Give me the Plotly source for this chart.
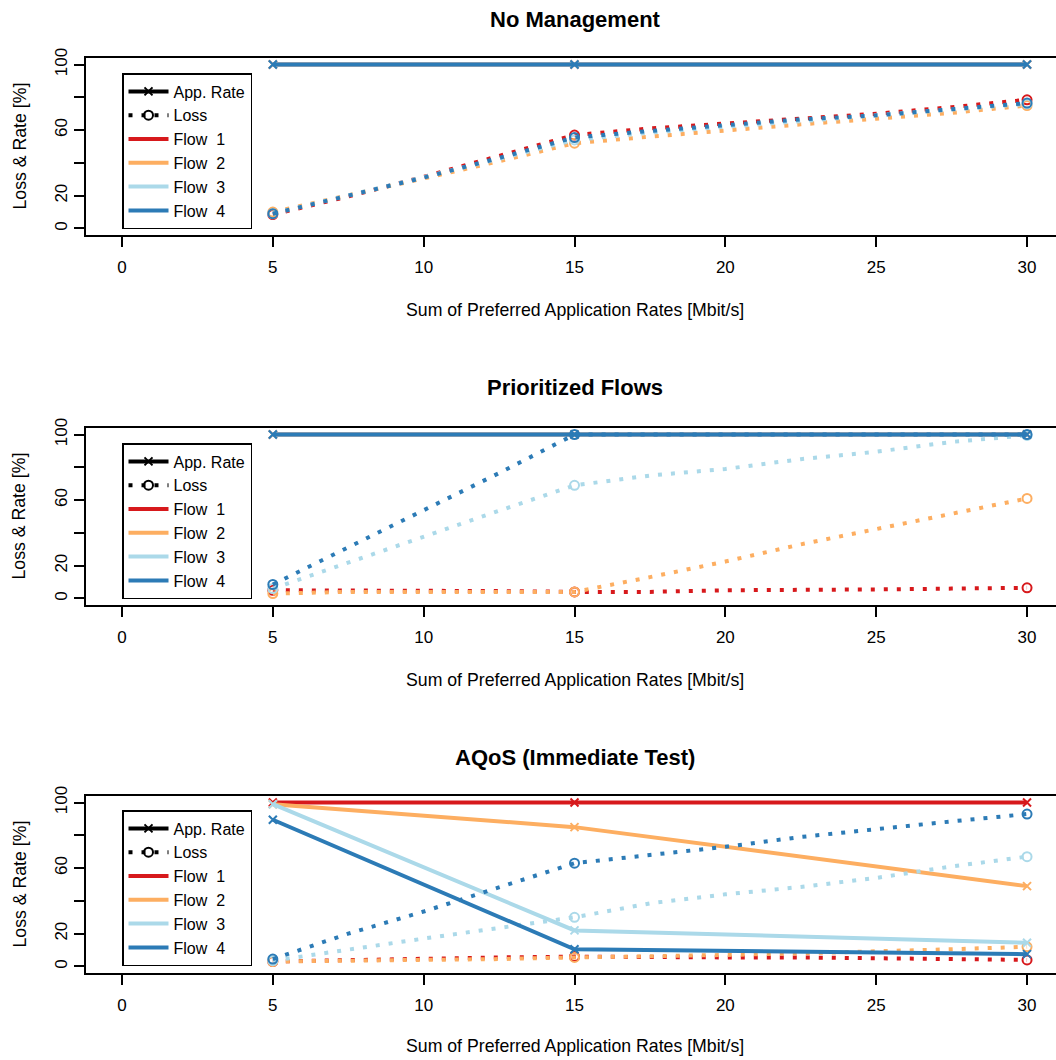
import plotly.graph_objects as go

# ---------------- data ----------------
RATE_X = [5, 15, 30]
LOSS_X = [5, 7.5, 10, 12.5, 15, 17.5, 20, 22.5, 25, 27.5, 30]
X_TICKS = [0, 5, 10, 15, 20, 25, 30]
Y_TICKS = [0, 20, 40, 60, 80, 100]
Y_TICK_TEXT = ["0", "20", "", "60", "", "100"]

FLOW_NAMES = ["Flow \u00a01", "Flow \u00a02", "Flow \u00a03", "Flow \u00a04"]
FLOW_COLORS = ["#D7191C", "#FDAE61", "#ABD9E9", "#2C7BB6"]
PANEL_TITLES = ["No Management", "Prioritized Flows", "AQoS (Immediate Test)"]
X_TITLE = "Sum of Preferred Application Rates [Mbit/s]"
Y_TITLE = "Loss &amp; Rate [%]"

# No Management
NM_RATE = [[100, 100, 100], [100, 100, 100], [100, 100, 100], [100, 100, 100]]
NM_LOSS = [
    [8.5, 19.5, 31.5, 44, 57, 61, 64, 67.5, 70, 74, 78.5],
    [10, 20, 30.5, 41, 52, 56, 60, 63.5, 67, 70.5, 75],
    [9, 20, 31, 42.5, 54, 58.5, 62, 65.5, 68.5, 72, 76],
    [9, 20, 31, 43, 55.5, 59.5, 63, 66.5, 69, 73, 76.5],
]

# Prioritized Flows
PF_RATE = [[100, 100, 100], [100, 100, 100], [100, 100, 100], [100, 100, 100]]
PF_LOSS = [
    [5, 5, 4.5, 4.5, 4, 4, 5, 5, 5.5, 6, 6.5],
    [3, 4, 4, 4, 4, 13, 22.5, 33, 42.5, 51.5, 61],
    [6, 22, 37.5, 53.5, 69, 75, 79, 85, 89.5, 95.5, 99.5],
    [8.5, 31, 54, 76.5, 100, 100, 100, 100, 100, 100, 100],
]

# AQoS (Immediate Test)
AQ_RATE = [[100, 100, 100], [99, 85, 49], [99, 22, 14.5], [89.5, 10.5, 7.5]]
AQ_LOSS = [
    [3, 4, 5, 5.5, 6, 5.5, 5.5, 5.5, 5, 4.5, 4],
    [3, 3.5, 3.5, 4.5, 5.5, 6, 7, 8, 9, 10.5, 12],
    [3.5, 10.5, 17, 23.5, 30, 38.5, 44, 48.5, 54, 61, 67],
    [4.5, 20, 33.5, 48, 63, 68, 73, 79, 84, 88.5, 93],
]

# ---------------- layout constants (pixels) ----------------
W, H = 1056, 1060
ML = 86
X_RANGE = [-1.193, 30.96]
Y_RANGE = [-4, 104]
BOX_TOP = [58, 428, 796]
BOX_BOT = [235, 605, 973]
TITLE_Y = [20, 388, 757]
XTITLE_Y = [310, 680, 1046]
LEG_TOP = [73, 443, 810]
FONT = "Liberation Sans, Arial, Helvetica, sans-serif"
DOT = "4px,9px"


def px_x(p):
    return (p - ML) / (W - ML)


def px_y(p):
    return 1 - p / H


fig = go.Figure()
panels = [(NM_RATE, NM_LOSS), (PF_RATE, PF_LOSS), (AQ_RATE, AQ_LOSS)]
for p, (rate, loss) in enumerate(panels):
    sfx = "" if p == 0 else str(p + 1)
    xa, ya = "x" + sfx, "y" + sfx
    leg = "legend" + sfx
    for f in range(4):
        c = FLOW_COLORS[f]
        fig.add_trace(go.Scatter(
            x=RATE_X, y=rate[f], mode="lines+markers",
            line=dict(color=c, width=4),
            marker=dict(symbol="x-thin", size=8, color=c, line=dict(color=c, width=2)),
            xaxis=xa, yaxis=ya, showlegend=False, hoverinfo="skip"))
        fig.add_trace(go.Scatter(
            x=LOSS_X, y=loss[f], mode="lines",
            line=dict(color=c, width=4, dash=DOT),
            xaxis=xa, yaxis=ya, showlegend=False, hoverinfo="skip"))
        fig.add_trace(go.Scatter(
            x=RATE_X, y=[loss[f][LOSS_X.index(v)] for v in RATE_X], mode="markers",
            marker=dict(symbol="circle-open", size=9, color=c, line=dict(color=c, width=2)),
            xaxis=xa, yaxis=ya, showlegend=False, hoverinfo="skip"))
    # legend entries
    fig.add_trace(go.Scatter(
        x=[None], y=[None], mode="lines+markers", name="App. Rate",
        line=dict(color="black", width=4),
        marker=dict(symbol="x-thin", size=8, color="black", line=dict(color="black", width=2)),
        xaxis=xa, yaxis=ya, legend=leg))
    fig.add_trace(go.Scatter(
        x=[None], y=[None], mode="lines+markers", name="Loss",
        line=dict(color="black", width=4, dash=DOT),
        marker=dict(symbol="circle-open", size=9, color="black", line=dict(color="black", width=2)),
        xaxis=xa, yaxis=ya, legend=leg))
    for f in range(4):
        fig.add_trace(go.Scatter(
            x=[None], y=[None], mode="lines", name=FLOW_NAMES[f],
            line=dict(color=FLOW_COLORS[f], width=4),
            xaxis=xa, yaxis=ya, legend=leg))

layout = dict(
    width=W, height=H,
    margin=dict(l=ML, r=0, t=0, b=0, pad=0, autoexpand=False),
    paper_bgcolor="white", plot_bgcolor="white",
    font=dict(family=FONT, size=17, color="black"),
    showlegend=True,
)
annotations = []
for p in range(3):
    sfx = "" if p == 0 else str(p + 1)
    layout["xaxis" + sfx] = dict(
        domain=[0, 1], range=X_RANGE, anchor="y" + sfx,
        tickmode="array", tickvals=X_TICKS, ticktext=[str(v) for v in X_TICKS],
        ticks="outside", ticklen=10, tickwidth=1.5, tickcolor="black",
        showline=True, linecolor="black", linewidth=1.5, mirror=True,
        showgrid=False, zeroline=False, tickfont=dict(size=17),
        ticklabelstandoff=6, automargin=False)
    layout["yaxis" + sfx] = dict(
        domain=[px_y(BOX_BOT[p]), px_y(BOX_TOP[p])], range=Y_RANGE, anchor="x" + sfx,
        tickmode="array", tickvals=Y_TICKS, ticktext=Y_TICK_TEXT, tickangle=-90,
        ticks="outside", ticklen=10, tickwidth=1.5, tickcolor="black",
        showline=True, linecolor="black", linewidth=1.5, mirror=False,
        showgrid=False, zeroline=False, tickfont=dict(size=17),
        ticklabelstandoff=0, automargin=False)
    layout["legend" + sfx] = dict(
        x=px_x(122), y=px_y(LEG_TOP[p]), xanchor="left", yanchor="top",
        xref="paper", yref="paper",
        bgcolor="white", bordercolor="black", borderwidth=1.5,
        font=dict(size=16, color="black", family=FONT),
        itemwidth=40, tracegroupgap=0, traceorder="normal")
    annotations.append(dict(
        text="<b>" + PANEL_TITLES[p] + "</b>", x=px_x(575), y=px_y(TITLE_Y[p]),
        xref="paper", yref="paper", xanchor="center", yanchor="middle",
        showarrow=False, font=dict(size=22, family=FONT, color="black")))
    annotations.append(dict(
        text=X_TITLE, x=px_x(575), y=px_y(XTITLE_Y[p]),
        xref="paper", yref="paper", xanchor="center", yanchor="middle",
        showarrow=False, font=dict(size=17.7, family=FONT, color="black")))
    annotations.append(dict(
        text=Y_TITLE, x=px_x(19), y=px_y((BOX_TOP[p] + BOX_BOT[p]) / 2),
        xref="paper", yref="paper", xanchor="center", yanchor="middle",
        textangle=-90, showarrow=False, font=dict(size=17.7, family=FONT, color="black")))
layout["annotations"] = annotations
fig.update_layout(**layout)
fig.write_html("out.html")
